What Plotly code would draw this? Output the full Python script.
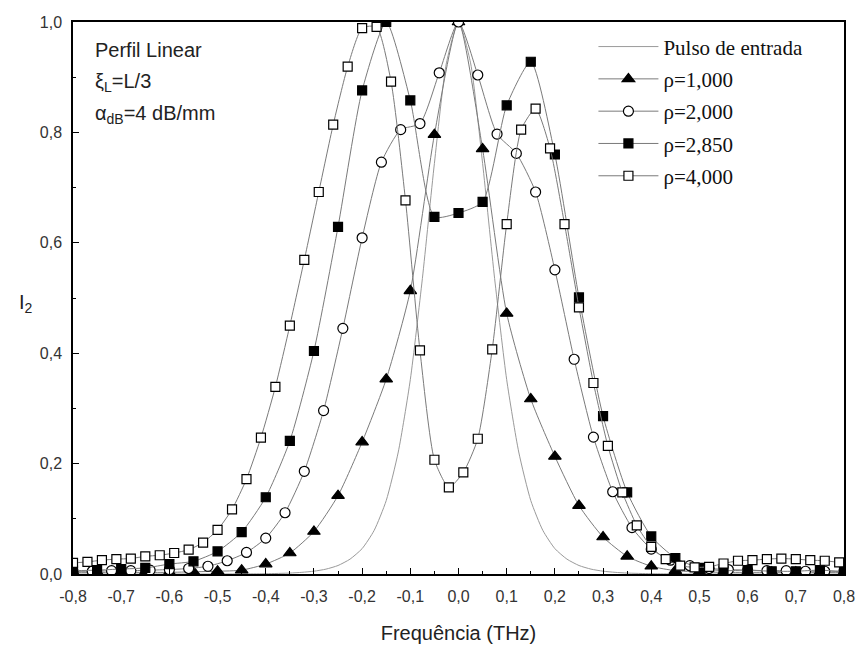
import plotly.graph_objects as go

# ---------------- data ----------------
pulse_x = [-0.80, -0.50, -0.40, -0.35, -0.325, -0.30, -0.275, -0.25, -0.225, -0.20, -0.175, -0.15, -0.125, -0.10,
           -0.075, -0.05, -0.025, 0.0, 0.025, 0.05, 0.075, 0.10, 0.125, 0.15, 0.175, 0.20, 0.225, 0.25,
           0.275, 0.30, 0.325, 0.35, 0.40, 0.50, 0.80]
pulse_y = [0.0, 0.0, 0.0005, 0.0017, 0.003, 0.0051, 0.0088, 0.0154, 0.027, 0.046, 0.079, 0.133, 0.221, 0.352,
           0.535, 0.744, 0.926, 1.0, 0.926, 0.744, 0.535, 0.352, 0.221, 0.133, 0.079, 0.046, 0.027, 0.0154,
           0.0088, 0.0051, 0.003, 0.0017, 0.0005, 0.0, 0.0]

x_p1 = [-0.80, -0.75, -0.70, -0.65, -0.60, -0.55, -0.50, -0.45, -0.40, -0.35, -0.30, -0.25, -0.20, -0.15,
        -0.10, -0.05, 0.0, 0.05, 0.10, 0.15, 0.20, 0.25, 0.30, 0.35, 0.40, 0.45, 0.50, 0.55, 0.60, 0.65,
        0.70, 0.75, 0.80]
y_p1 = [0.003, 0.003, 0.003, 0.003, 0.003, 0.004, 0.005, 0.007, 0.018, 0.038, 0.077, 0.142, 0.239, 0.353,
        0.513, 0.796, 1.0, 0.770, 0.472, 0.317, 0.213, 0.124, 0.067, 0.032, 0.014, 0.006, 0.004, 0.003,
        0.003, 0.003, 0.003, 0.003, 0.003]

x_p2 = [-0.80, -0.76, -0.72, -0.68, -0.64, -0.60, -0.56, -0.52, -0.48, -0.44, -0.40, -0.36, -0.32, -0.28,
        -0.24, -0.20, -0.16, -0.12, -0.08, -0.04, 0.0, 0.04, 0.08, 0.12, 0.16, 0.20, 0.24, 0.28, 0.32,
        0.36, 0.40, 0.44, 0.48, 0.52, 0.56, 0.60, 0.64, 0.68, 0.72, 0.76, 0.80]
y_p2 = [0.005, 0.005, 0.006, 0.006, 0.007, 0.008, 0.010, 0.014, 0.024, 0.039, 0.065, 0.111, 0.186, 0.296,
        0.445, 0.609, 0.746, 0.805, 0.816, 0.908, 1.0, 0.904, 0.797, 0.762, 0.692, 0.551, 0.389, 0.248, 0.149,
        0.084, 0.045, 0.025, 0.015, 0.010, 0.008, 0.007, 0.006, 0.006, 0.005, 0.005, 0.005]

x_p3 = [-0.80, -0.75, -0.70, -0.65, -0.60, -0.55, -0.50, -0.45, -0.40, -0.35, -0.30, -0.25, -0.20, -0.15,
        -0.10, -0.05, 0.0, 0.05, 0.10, 0.15, 0.20, 0.25, 0.30, 0.35, 0.40, 0.45, 0.50, 0.55, 0.60, 0.65,
        0.70, 0.75, 0.80]
y_p3 = [0.006, 0.007, 0.009, 0.011, 0.018, 0.023, 0.041, 0.076, 0.139, 0.241, 0.404, 0.629, 0.876, 1.0,
        0.858, 0.647, 0.654, 0.674, 0.849, 0.928, 0.760, 0.501, 0.286, 0.148, 0.068, 0.029, 0.011, 0.006,
        0.007, 0.005, 0.005, 0.007, 0.004]

x_p4 = [-0.80, -0.77, -0.74, -0.71, -0.68, -0.65, -0.62, -0.59, -0.56, -0.53, -0.50, -0.47, -0.44, -0.41,
        -0.38, -0.35, -0.32, -0.29, -0.26, -0.23, -0.20, -0.17, -0.14, -0.11, -0.08, -0.05, -0.02, 0.01,
        0.04, 0.07, 0.10, 0.13, 0.16, 0.19, 0.22, 0.25, 0.28, 0.31, 0.34, 0.37, 0.40, 0.43, 0.46, 0.49,
        0.52, 0.55, 0.58, 0.61, 0.64, 0.67, 0.70, 0.73, 0.76, 0.79]
y_p4 = [0.020, 0.022, 0.025, 0.027, 0.028, 0.032, 0.034, 0.038, 0.044, 0.057, 0.080, 0.117, 0.172, 0.247,
        0.339, 0.450, 0.569, 0.692, 0.814, 0.919, 0.989, 0.991, 0.892, 0.677, 0.405, 0.207, 0.157, 0.184,
        0.245, 0.407, 0.634, 0.805, 0.843, 0.771, 0.634, 0.483, 0.346, 0.232, 0.148, 0.088, 0.049, 0.027,
        0.015, 0.012, 0.013, 0.019, 0.024, 0.025, 0.027, 0.028, 0.027, 0.025, 0.024, 0.021]

names = ["Pulso de entrada", "ρ=1,000", "ρ=2,000", "ρ=2,850", "ρ=4,000"]
x_ticks = [-0.8, -0.7, -0.6, -0.5, -0.4, -0.3, -0.2, -0.1, 0.0, 0.1, 0.2, 0.3, 0.4, 0.5, 0.6, 0.7, 0.8]
x_tick_labels = ["-0,8", "-0,7", "-0,6", "-0,5", "-0,4", "-0,3", "-0,2", "-0,1", "0,0",
                 "0,1", "0,2", "0,3", "0,4", "0,5", "0,6", "0,7", "0,8"]
y_ticks = [0.0, 0.2, 0.4, 0.6, 0.8, 1.0]
y_tick_labels = ["0,0", "0,2", "0,4", "0,6", "0,8", "1,0"]

# ---------------- figure ----------------
LINE = "#7a7a7a"
fig = go.Figure()
fig.add_trace(go.Scatter(x=pulse_x, y=pulse_y, mode="lines", name=names[0], legendgroup="g0",
                         line=dict(color="#9a9a9a", width=1, shape="spline", smoothing=0.6)))

series = [
    (x_p1, y_p1, "triangle-up", "black", 11),
    (x_p2, y_p2, "circle", "white", 10),
    (x_p3, y_p3, "square", "black", 9),
    (x_p4, y_p4, "square", "white", 9),
]
for i, (xs, ys, sym, fill, sz) in enumerate(series):
    fig.add_trace(go.Scatter(
        x=xs, y=ys, mode="lines+markers", name=names[i + 1], legendgroup=f"g{i+1}",
        line=dict(color=LINE, width=1, shape="spline", smoothing=0.6),
        marker=dict(symbol=sym, size=sz, color=fill, line=dict(color="black", width=1.2)),
    ))

tickfont = dict(family="Liberation Sans, Arial", size=16, color="#333")
fig.update_layout(
    width=867, height=653,
    margin=dict(l=73, r=17, t=22, b=78),
    paper_bgcolor="white", plot_bgcolor="white",
    showlegend=True,
    legend=dict(x=0.675, y=0.992, xanchor="left", yanchor="top",
                bgcolor="rgba(0,0,0,0)", borderwidth=0,
                font=dict(family="Liberation Serif, Times New Roman", size=21, color="#111"),
                tracegroupgap=2, itemwidth=60),
    xaxis=dict(range=[-0.8, 0.8], tickvals=x_ticks, ticktext=x_tick_labels,
               ticks="inside", ticklen=6, tickwidth=1, tickcolor="black", ticklabelstandoff=7,
               minor=dict(dtick=0.05, ticks="inside", ticklen=3, tickcolor="black"),
               showline=True, linecolor="black", linewidth=1.5, mirror=True,
               showgrid=False, zeroline=False, tickfont=tickfont,
               title=dict(text="Frequência (THz)", font=dict(family="Liberation Sans, Arial", size=20, color="#222"),
                          standoff=22)),
    yaxis=dict(range=[0, 1.0], tickvals=y_ticks, ticktext=y_tick_labels,
               ticks="inside", ticklen=6, tickwidth=1, tickcolor="black", ticklabelstandoff=6,
               minor=dict(dtick=0.1, ticks="inside", ticklen=3, tickcolor="black"),
               showline=True, linecolor="black", linewidth=1.5, mirror=True,
               showgrid=False, zeroline=False, tickfont=tickfont),
)

fig.add_annotation(x=-0.072, y=0.49, xref="paper", yref="paper", showarrow=False,
                   text="I<sub>2</sub>", font=dict(family="Liberation Sans, Arial", size=20, color="#222"))

note_font = dict(family="Liberation Sans, Arial", size=20, color="#222")
for yy, txt in [(0.949, "Perfil Linear"), (0.890, "ξ<sub>L</sub>=L/3"), (0.832, "α<sub>dB</sub>=4 dB/mm")]:
    fig.add_annotation(x=0.026, y=yy, xref="paper", yref="paper", xanchor="left", yanchor="middle",
                       showarrow=False, text=txt, font=note_font)

fig.write_html("out.html")
